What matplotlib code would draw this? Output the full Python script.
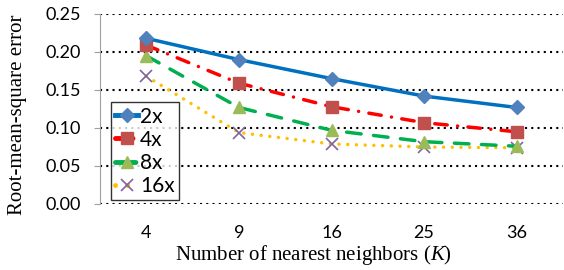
import matplotlib.pyplot as plt

neighbors = ['4', '9', '16', '25', '36']
rmse_2x = [0.218, 0.190, 0.165, 0.142, 0.127]
rmse_4x = [0.209, 0.159, 0.128, 0.107, 0.095]
rmse_8x = [0.195, 0.127, 0.097, 0.082, 0.076]
rmse_16x = [0.168, 0.094, 0.079, 0.075, 0.074]
yticks = [0.00, 0.05, 0.10, 0.15, 0.20, 0.25]

plt.rcParams['mathtext.fontset'] = 'custom'
plt.rcParams['mathtext.it'] = 'Liberation Serif:italic'
plt.rcParams['mathtext.rm'] = 'Liberation Serif'

fig = plt.figure(figsize=(5.64, 2.70), dpi=100)
ax = fig.add_axes([100 / 564, 1 - 204 / 270, 463 / 564, 190 / 270])

x = range(len(neighbors))
ax.plot(x, rmse_2x, color='#0070C0', lw=2.5, ls='-', marker='D', ms=7,
        mfc='#4F81BD', mec='#4F81BD', label='2x', zorder=5)
ax.plot(x, rmse_4x, color='#FF0000', lw=2.5, ls=(0, (3.6, 3, 0.01, 3)), marker='s', ms=8,
        mfc='#C0504D', mec='#C0504D', label='4x', zorder=4, dash_capstyle='round')
ax.plot(x, rmse_8x, color='#00B050', lw=2.5, ls=(0, (4.2, 3.6)), marker='^', ms=9,
        mfc='#9BBB59', mec='#9BBB59', label='8x', zorder=3, dash_capstyle='round')
ax.plot(x, rmse_16x, color='#FFC000', lw=2.5, ls=(0, (0.01, 2.5)), marker='x', ms=8,
        mec='#8064A2', mew=1.2, label='16x', zorder=2, dash_capstyle='round')

ax.set_xlim(-0.5, len(neighbors) - 0.5)
ax.set_ylim(0, 0.25)
ax.set_xticks(list(x))
ax.set_xticklabels(neighbors)
ax.set_yticks(yticks)
ax.set_yticklabels(['%.2f' % v for v in yticks])
ax.yaxis.grid(True, color='black', ls=(0, (1, 2)), lw=1.5)
ax.set_axisbelow(True)

for s in ['top', 'right', 'bottom']:
    ax.spines[s].set_visible(False)
ax.spines['left'].set_color('#A0A0A0')
ax.tick_params(axis='y', length=4, color='#A0A0A0', pad=10, labelsize=13)
ax.tick_params(axis='x', length=0, pad=15, labelsize=13)
for lab in ax.get_xticklabels() + ax.get_yticklabels():
    lab.set_family('Lato')

ax.set_xlabel('Number of nearest neighbors ($\\mathit{K}$)', family='Liberation Serif', fontsize=15)
ax.set_ylabel('Root-mean-square error', family='Liberation Serif', fontsize=15)
ax.xaxis.set_label_coords((313 - 100) / 463, -(255 - 204) / 190, transform=ax.transAxes)
ax.yaxis.set_label_coords(-(100 - 18) / 463, (204 - 115) / 190, transform=ax.transAxes)
ax.xaxis.label.set_va('center')
ax.yaxis.label.set_va('center')

leg = ax.legend(loc='lower left', bbox_to_anchor=(11 / 463, 0.02), prop={'family': 'Lato', 'size': 15},
                frameon=True, fancybox=False, edgecolor='black', handlelength=1.1,
                handletextpad=0.1, borderpad=0.2, labelspacing=0.15, borderaxespad=0)
leg.get_frame().set_linewidth(1.0)
for h in leg.get_lines():
    h.set_linewidth(3.5)

fig.savefig('out.png', dpi=100)
